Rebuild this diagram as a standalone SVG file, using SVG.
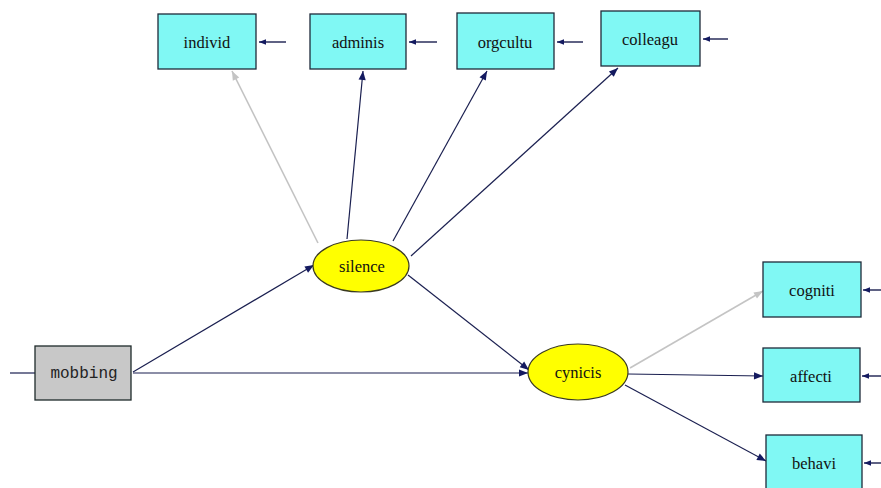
<svg xmlns="http://www.w3.org/2000/svg" width="881" height="488" viewBox="0 0 881 488">
<style>
.box{fill:#80f8f4;stroke:#1e2a3a;stroke-width:1.3}
.obs{fill:#c8c8c8;stroke:#1e2a2a;stroke-width:1.3}
.lat{fill:#ffff00;stroke:#3a3a20;stroke-width:1.2}
.t{font-family:"Liberation Serif",serif;font-size:16.5px;fill:#111;text-anchor:middle;dominant-baseline:central}
.m{font-family:"Liberation Mono",monospace;font-size:16px;fill:#222;text-anchor:middle;dominant-baseline:central}
.c{stroke:#1a1f50;stroke-width:1.2;fill:none;marker-end:url(#a)}
.g{stroke:#c4c4c4;stroke-width:1.6;fill:none;marker-end:url(#ag)}
.e{stroke:#1a1f50;stroke-width:1.4;fill:none;marker-end:url(#s)}
</style>
<defs>
<marker id="a" viewBox="0 0 10 10" refX="10" refY="5" markerWidth="11" markerHeight="9" markerUnits="userSpaceOnUse" orient="auto"><path d="M0,1 L10,5 L0,9 Z" fill="#141a60"/></marker>
<marker id="ag" viewBox="0 0 10 10" refX="10" refY="5" markerWidth="11" markerHeight="9" markerUnits="userSpaceOnUse" orient="auto"><path d="M0,1 L10,5 L0,9 Z" fill="#c4c4c4"/></marker>
<marker id="s" viewBox="0 0 10 10" refX="10" refY="5" markerWidth="9" markerHeight="7" markerUnits="userSpaceOnUse" orient="auto"><path d="M0,1 L10,5 L0,9 Z" fill="#141a60"/></marker>
</defs>
<g id="connectors">
<line class="e" x1="286" y1="42" x2="259" y2="42"/>
<line class="e" x1="437" y1="42" x2="409" y2="42"/>
<line class="e" x1="583" y1="42" x2="557" y2="42"/>
<line class="e" x1="728" y1="39" x2="703" y2="39"/>
<line class="e" x1="881" y1="290" x2="863" y2="290"/>
<line class="e" x1="881" y1="376" x2="862" y2="376"/>
<line class="e" x1="881" y1="463" x2="864" y2="463"/>
<line stroke="#1a1f50" stroke-width="1.2" x1="10" y1="373" x2="35" y2="373"/>
<line class="g" x1="318" y1="243" x2="232" y2="71"/>
<line class="c" x1="347" y1="239" x2="363" y2="71"/>
<line class="c" x1="393" y1="241" x2="487" y2="71"/>
<line class="c" x1="411" y1="256" x2="618" y2="68"/>
<line class="c" x1="408" y1="275" x2="529" y2="370"/>
<line class="c" x1="133" y1="372" x2="314" y2="265"/>
<line class="c" x1="133" y1="373" x2="528" y2="373"/>
<line class="g" x1="630" y1="368" x2="763" y2="291"/>
<line class="c" x1="628" y1="374" x2="763" y2="376"/>
<line class="c" x1="625" y1="385" x2="766" y2="461"/>
</g>
<g id="individ"><rect class="box" x="158" y="14" width="98" height="55"/><text class="t" x="207" y="42">individ</text></g>
<g id="adminis"><rect class="box" x="310" y="14" width="96" height="55"/><text class="t" x="358" y="42">adminis</text></g>
<g id="orgcultu"><rect class="box" x="457" y="13" width="97" height="56"/><text class="t" x="505" y="42">orgcultu</text></g>
<g id="colleagu"><rect class="box" x="601" y="11" width="99" height="55"/><text class="t" x="650" y="39">colleagu</text></g>
<g id="mobbing"><rect class="obs" x="35" y="346" width="96" height="54"/><text class="m" x="84" y="374">mobbing</text></g>
<g id="silence"><ellipse class="lat" cx="361" cy="266" rx="48" ry="26"/><text class="t" x="362" y="266">silence</text></g>
<g id="cynicis"><ellipse class="lat" cx="578" cy="372" rx="50" ry="28"/><text class="t" x="578" y="372">cynicis</text></g>
<g id="cogniti"><rect class="box" x="763" y="262" width="98" height="55"/><text class="t" x="812" y="290">cogniti</text></g>
<g id="affecti"><rect class="box" x="763" y="348" width="97" height="54"/><text class="t" x="811" y="376">affecti</text></g>
<g id="behavi"><rect class="box" x="766" y="435" width="96" height="60"/><text class="t" x="814" y="463">behavi</text></g>
</svg>
